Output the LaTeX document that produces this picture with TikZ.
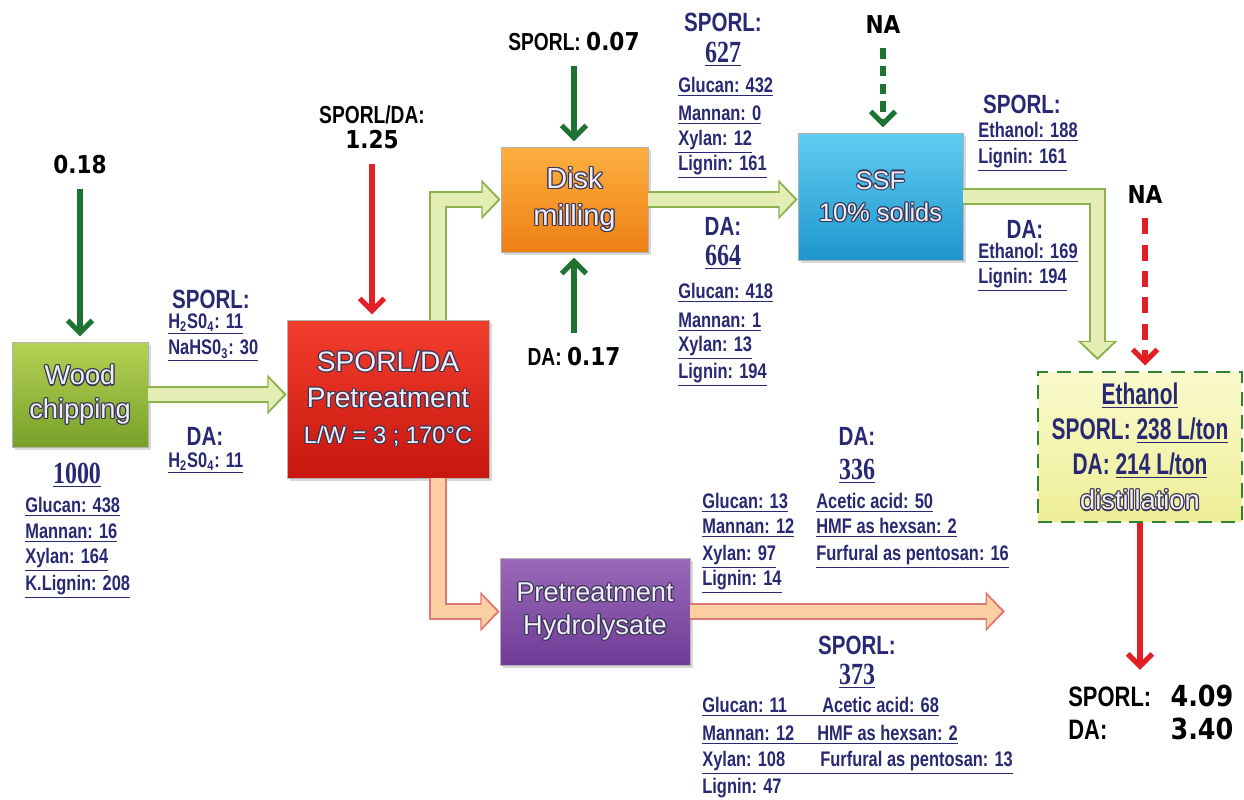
\documentclass[tikz,border=0pt]{standalone}
\usepackage{fontspec}
\setmainfont{Liberation Sans}
\newfontfamily\narrowfont[FakeStretch=0.78]{Liberation Sans}
\newfontfamily\tightfont[FakeStretch=0.7]{Liberation Sans}
\newfontfamily\heavyfont[FakeStretch=0.88]{DejaVu Sans}
\newfontfamily\tallfont[FakeStretch=0.78]{Liberation Serif}
\usetikzlibrary{arrows.meta,shadows}

\definecolor{navy}{RGB}{40,40,115}
\definecolor{boxtext}{RGB}{240,238,252}
\definecolor{edgecol}{RGB}{60,55,85}
\definecolor{woodA}{RGB}{180,210,85}
\definecolor{woodB}{RGB}{120,160,40}
\definecolor{preA}{RGB}{242,62,45}
\definecolor{preB}{RGB}{200,22,15}
\definecolor{diskA}{RGB}{253,175,65}
\definecolor{diskB}{RGB}{238,128,20}
\definecolor{ssfA}{RGB}{95,205,242}
\definecolor{ssfB}{RGB}{30,150,205}
\definecolor{hydA}{RGB}{155,105,185}
\definecolor{hydB}{RGB}{110,60,150}
\definecolor{ethA}{RGB}{250,250,205}
\definecolor{ethB}{RGB}{238,238,150}
\definecolor{ethline}{RGB}{50,130,50}
\definecolor{flowfill}{RGB}{228,238,180}
\definecolor{flowline}{RGB}{140,178,80}
\definecolor{peachfill}{RGB}{251,207,162}
\definecolor{peachline}{RGB}{225,120,120}
\definecolor{feedgreen}{RGB}{30,115,50}
\definecolor{feedred}{RGB}{228,30,37}

% outlined lettering for the unit boxes
\newcommand{\shiftcopy}[3]{\makebox[0pt][l]{\hspace*{#1}\raisebox{#2}{\textcolor{edgecol}{#3}}}}
\newcommand{\edged}[1]{\shiftcopy{0.7pt}{0pt}{#1}\shiftcopy{-0.7pt}{0pt}{#1}%
  \shiftcopy{0pt}{0.7pt}{#1}\shiftcopy{0pt}{-0.7pt}{#1}%
  \shiftcopy{0.5pt}{0.5pt}{#1}\shiftcopy{-0.5pt}{0.5pt}{#1}%
  \shiftcopy{0.5pt}{-0.5pt}{#1}\shiftcopy{-0.5pt}{-0.5pt}{#1}#1}

\begin{document}
\begin{tikzpicture}[x=0.02cm,y=-0.02cm]
  \tikzstyle{stage}=[rectangle,draw=black!30,line width=0.3pt,align=center,text=boxtext,
      font=\fontsize{15.5}{19}\selectfont,
      drop shadow={shadow xshift=1.5pt,shadow yshift=-1.5pt,opacity=0.3}]
  \tikzstyle{hdr}=[font=\narrowfont\bfseries\fontsize{15}{17}\selectfont,text=navy,inner sep=0pt]
  \tikzstyle{val}=[font=\narrowfont\bfseries\fontsize{12}{14}\selectfont,text=navy,inner sep=0pt,anchor=west]
  \tikzstyle{total}=[font=\tallfont\bfseries\fontsize{17.5}{20}\selectfont,text=navy,inner sep=0pt]
  \tikzstyle{dose}=[font=\heavyfont\bfseries\fontsize{14}{16}\selectfont,inner sep=0pt]
  \tikzstyle{tag}=[font=\narrowfont\bfseries\fontsize{14}{16}\selectfont,inner sep=0pt]
  \tikzstyle{feed}=[line width=3pt,-{Straight Barb[length=7pt,width=14pt]},shorten >=3pt,shorten <=8pt]
  \tikzstyle{flowout}=[line width=10pt,line join=miter,-{Triangle[length=11pt,width=22pt]}]
  \tikzstyle{flowin}=[line width=7.6pt,line join=miter,-{Triangle[length=8.6pt,width=17.6pt]},shorten >=1.7pt]

  \useasboundingbox (0,0) rectangle (1244,800);

  % process units
  \node[stage,minimum width=2.72cm,minimum height=2.1cm,top color=woodA,bottom color=woodB] (wood) at (80,394.5)
       {\edged{Wood}\\\edged{chipping}};
  \node[stage,minimum width=4.04cm,minimum height=3.16cm,top color=preA,bottom color=preB,
        font=\fontsize{16}{20.5}\selectfont] (pre) at (388,399)
       {\edged{SPORL/DA}\\\edged{Pretreatment}\\{\fontsize{13.5}{20.5}\selectfont\edged{L/W = 3 ; 170°C}}};
  \node[stage,minimum width=2.94cm,minimum height=2.1cm,top color=diskA,bottom color=diskB,
        font=\fontsize{16.5}{21}\selectfont] (disk) at (574.5,199.5)
       {\edged{Disk}\\\edged{milling}};
  \node[stage,minimum width=3.3cm,minimum height=2.54cm,top color=ssfA,bottom color=ssfB,
        font=\fontsize{14.5}{18.5}\selectfont] (ssf) at (880.5,196.5)
       {\edged{SSF}\\\edged{10\% solids}};
  \node[stage,minimum width=3.8cm,minimum height=2.14cm,top color=hydA,bottom color=hydB] (hydro) at (595,611.5)
       {\edged{Pretreatment}\\\edged{Hydrolysate}};
  \node[rectangle,draw=ethline,line width=1.4pt,dash pattern=on 8pt off 5pt,top color=ethA,bottom color=ethB,
        minimum width=4.08cm,minimum height=3cm,align=center,text=navy,
        font=\tightfont\bfseries\fontsize{17}{20}\selectfont] (eth) at (1140,447)
       {\underline{Ethanol}\\SPORL: \underline{238 L/ton}\\DA: \underline{214 L/ton}\\
        {\normalfont\fontsize{15.5}{20}\selectfont\color{boxtext}\edged{distillation}}};
  \coordinate (hyend) at (1005,611.5);

  % block flows
  \draw[flowout,draw=flowline] (wood.east) -- (wood.east -| pre.west);
  \draw[flowin,draw=flowfill] (wood.east) -- (wood.east -| pre.west);
  \draw[flowout,draw=flowline] ([xshift=1cm]pre.north) |- (disk.west);
  \draw[flowin,draw=flowfill] ([xshift=1cm]pre.north) |- (disk.west);
  \draw[flowout,draw=flowline] (disk.east) -- (disk.east -| ssf.west);
  \draw[flowin,draw=flowfill] (disk.east) -- (disk.east -| ssf.west);
  \draw[flowout,draw=flowline,shorten >=6pt] (ssf.east) -| ([xshift=-0.85cm]eth.north);
  \draw[flowin,draw=flowfill,shorten >=7.7pt] (ssf.east) -| ([xshift=-0.85cm]eth.north);
  \draw[flowout,draw=peachline] ([xshift=1cm]pre.south) |- (hydro.west);
  \draw[flowin,draw=peachfill] ([xshift=1cm]pre.south) |- (hydro.west);
  \draw[flowout,draw=peachline] (hydro.east) -- (hyend);
  \draw[flowin,draw=peachfill] (hydro.east) -- (hyend);

  % chemical and energy inputs
  \node[dose] (d018) at (80,165) {0.18};
  \draw[feed,draw=feedgreen] (d018) -- (d018 |- wood.north);
  \node[tag] (l125) at (372,115) {SPORL/DA:};
  \node[dose] (d125) at (372,140) {1.25};
  \draw[feed,draw=feedred] (d125) -- (d125 |- pre.north);
  \node[tag] (d007) at (574,42) {SPORL: {\heavyfont 0.07}};
  \draw[feed,draw=feedgreen] (d007) -- (d007 |- disk.north);
  \node[tag] (d017) at (574,357) {DA: {\heavyfont 0.17}};
  \draw[feed,draw=feedgreen] (d017) -- (d017 |- disk.south);
  \node[dose] (na1) at (883,25) {NA};
  \draw[feed,draw=feedgreen,dash pattern=on 6pt off 4pt] (na1) -- (na1 |- ssf.north);
  \node[dose] (na2) at (1145,195) {NA};
  \draw[feed,draw=feedred,dash pattern=on 9pt off 6pt] (na2) -- (na2 |- eth.north);
  \node[tag,anchor=north west,font=\narrowfont\bfseries\fontsize{16}{18}\selectfont] (yield) at (1068,684)
       {\begin{tabular}{@{}l@{\hspace{11pt}}l@{}}SPORL: & {\heavyfont\fontsize{16.5}{18}\selectfont 4.09}\\[1pt]
        DA: & {\heavyfont\fontsize{16.5}{18}\selectfont 3.40}\end{tabular}};
  \draw[feed,draw=feedred,shorten <=0pt,shorten >=8pt] (eth.south) -- (eth.south |- yield.north);

  % wood chips
  \node[hdr] (wsp) at (211,299) {SPORL:};
  \node[val] (wsp1) at (168,324) {\underline{H\textsubscript{2}S0\textsubscript{4}: 11}};
  \node[val] (wsp2) at (168,351) {\underline{NaHS0\textsubscript{3}: 30}};
  \node[hdr] (wda) at (205,436) {DA:};
  \node[val] (wda1) at (168,463) {\underline{H\textsubscript{2}S0\textsubscript{4}: 11}};
  \node[total] (w1000) at (77,475) {\underline{1000}};
  \node[val] (wglu) at (25,507) {\underline{Glucan: 438}};
  \node[val] (wman) at (25,533) {\underline{Mannan: 16}};
  \node[val] (wxyl) at (25,560) {\underline{Xylan: 164}};
  \node[val] (wlig) at (25,587) {\underline{K.Lignin: 208}};

  % solids after pretreatment
  \node[hdr] (ssp) at (723,22) {SPORL:};
  \node[total] (s627) at (723,54) {\underline{627}};
  \node[val] (sglu) at (678,87) {\underline{Glucan: 432}};
  \node[val] (sman) at (678,115) {\underline{Mannan: 0}};
  \node[val] (sxyl) at (678,142) {\underline{Xylan: 12}};
  \node[val] (slig) at (678,167) {\underline{Lignin: 161}};
  \node[hdr] (sda) at (723,226) {DA:};
  \node[total] (s664) at (723,257) {\underline{664}};
  \node[val] (dglu) at (678,293) {\underline{Glucan: 418}};
  \node[val] (dman) at (678,322) {\underline{Mannan: 1}};
  \node[val] (dxyl) at (678,348) {\underline{Xylan: 13}};
  \node[val] (dlig) at (678,375) {\underline{Lignin: 194}};

  % SSF products
  \node[hdr] (fsp) at (1022,104) {SPORL:};
  \node[val] (feth1) at (978,132) {\underline{Ethanol: 188}};
  \node[val] (flig1) at (978,160) {\underline{Lignin: 161}};
  \node[hdr] (fda) at (1025,229) {DA:};
  \node[val] (feth2) at (978,253) {\underline{Ethanol: 169}};
  \node[val] (flig2) at (978,280) {\underline{Lignin: 194}};

  % hydrolysate
  \node[hdr] (hda) at (857,436) {DA:};
  \node[total] (h336) at (857,471) {\underline{336}};
  \node[val] (hglu) at (702,503) {\underline{Glucan: 13}};
  \node[val] (hman) at (702,528) {\underline{Mannan: 12}};
  \node[val] (hxyl) at (702,557) {\underline{Xylan: 97}};
  \node[val] (hlig) at (702,582) {\underline{Lignin: 14}};
  \node[val] (hace) at (816,503) {\underline{Acetic acid: 50}};
  \node[val] (hhmf) at (816,528) {\underline{HMF as hexsan: 2}};
  \node[val] (hfur) at (816,557) {\underline{Furfural as pentosan: 16}};
  \node[hdr] (hsp) at (857,645) {SPORL:};
  \node[total] (h373) at (857,676) {\underline{373}};
  \node[val] (hrow1) at (702,707) {\underline{\makebox[2.4cm][l]{Glucan: 11}Acetic acid: 68}};
  \node[val] (hrow2) at (702,735) {\underline{\makebox[2.3cm][l]{Mannan: 12}HMF as hexsan: 2}};
  \node[val] (hrow3) at (702,763) {\underline{\makebox[2.36cm][l]{Xylan: 108}Furfural as pentosan: 13}};
  \node[val] (hrow4) at (702,790) {\underline{Lignin: 47}};
\end{tikzpicture}
\end{document}
